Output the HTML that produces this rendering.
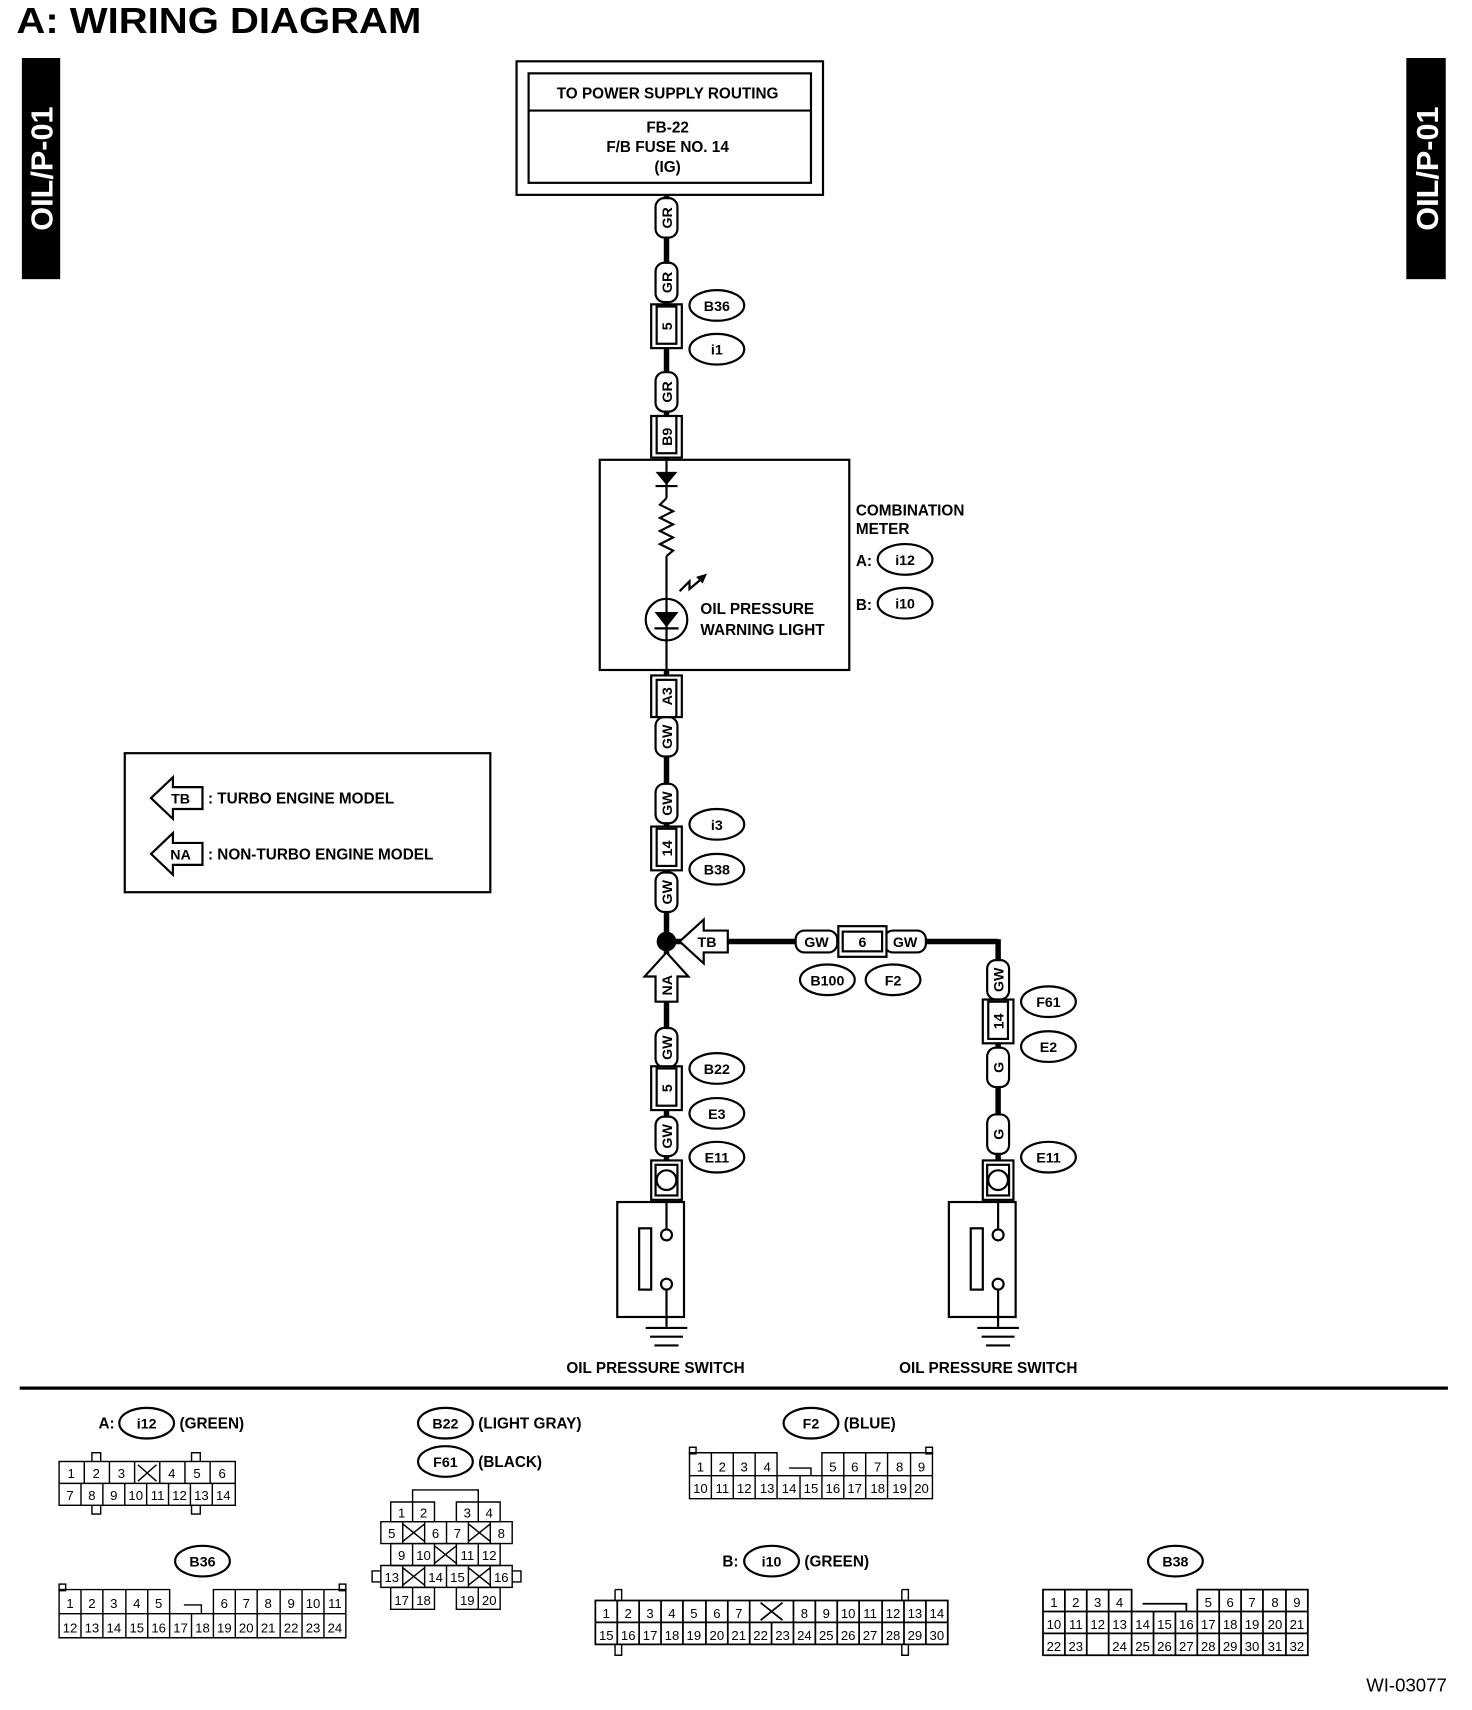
<!DOCTYPE html>
<html><head><meta charset="utf-8"><style>
html,body{margin:0;padding:0;background:#fff}
svg{display:block}
text{font-family:"Liberation Sans",sans-serif;font-weight:bold;fill:#000}
.c rect{fill:#fff;stroke:#000;stroke-width:2}
.c text{font-size:13px;text-anchor:middle}
.o ellipse{fill:#fff;stroke:#000;stroke-width:2}
.o text{font-size:13px;text-anchor:middle}
.g{fill:none;stroke:#000;stroke-width:1.3}
.g2{fill:#fff;stroke:#000;stroke-width:1.3}
.t text{font-size:12px;text-anchor:middle;font-weight:normal}
.w{stroke:#000;stroke-width:5;fill:none}
.l{stroke:#000;stroke-width:2;fill:none}
</style></head><body>
<svg width="1472" height="1710" viewBox="0 0 1345 1562" preserveAspectRatio="none" xmlns="http://www.w3.org/2000/svg">
<text x="15" y="30" font-size="33" textLength="370" lengthAdjust="spacingAndGlyphs">A:  WIRING DIAGRAM</text>
<rect x="20" y="53" width="35" height="202" fill="#000"/>
<text transform="translate(48,154) rotate(-90)" font-size="28" text-anchor="middle" style="fill:#fff">OIL/P-01</text>
<rect x="1285" y="53" width="36" height="202" fill="#000"/>
<text transform="translate(1314,154) rotate(-90)" font-size="28" text-anchor="middle" style="fill:#fff">OIL/P-01</text>

<rect x="472" y="56" width="280" height="122" class="l"/>
<rect x="483" y="67" width="258" height="100" class="l"/>
<line x1="483" y1="101" x2="741" y2="101" class="l"/>
<g font-size="14" text-anchor="middle"><text x="610" y="90">TO POWER SUPPLY ROUTING</text><text x="610" y="121">FB-22</text><text x="610" y="139">F/B FUSE NO. 14</text><text x="610" y="157">(IG)</text></g>

<line x1="609" y1="178" x2="609" y2="420" class="w"/>
<line x1="609" y1="612" x2="609" y2="1060" class="w"/>
<line x1="609" y1="860" x2="912" y2="860" class="w"/>
<line x1="912" y1="858" x2="912" y2="1060" class="w"/>

<g class="c">
<g transform="translate(609,199)"><rect x="-10" y="-18" width="20" height="36" rx="8"/><text transform="rotate(-90)" y="5">GR</text></g>
<g transform="translate(609,258)"><rect x="-10" y="-18" width="20" height="36" rx="8"/><text transform="rotate(-90)" y="5">GR</text></g>
<g transform="translate(609,358)"><rect x="-10" y="-18" width="20" height="36" rx="8"/><text transform="rotate(-90)" y="5">GR</text></g>
<g transform="translate(609,673)"><rect x="-10" y="-18" width="20" height="36" rx="8"/><text transform="rotate(-90)" y="5">GW</text></g>
<g transform="translate(609,734)"><rect x="-10" y="-18" width="20" height="36" rx="8"/><text transform="rotate(-90)" y="5">GW</text></g>
<g transform="translate(609,815)"><rect x="-10" y="-18" width="20" height="36" rx="8"/><text transform="rotate(-90)" y="5">GW</text></g>
<g transform="translate(609,957)"><rect x="-10" y="-18" width="20" height="36" rx="8"/><text transform="rotate(-90)" y="5">GW</text></g>
<g transform="translate(609,1038)"><rect x="-10" y="-18" width="20" height="36" rx="8"/><text transform="rotate(-90)" y="5">GW</text></g>
<g transform="translate(912,895)"><rect x="-10" y="-18" width="20" height="36" rx="8"/><text transform="rotate(-90)" y="5">GW</text></g>
<g transform="translate(912,975)"><rect x="-10" y="-18" width="20" height="36" rx="8"/><text transform="rotate(-90)" y="5">G</text></g>
<g transform="translate(912,1036)"><rect x="-10" y="-18" width="20" height="36" rx="8"/><text transform="rotate(-90)" y="5">G</text></g>
<g transform="translate(746,860)"><rect x="-19" y="-10" width="38" height="20" rx="8"/><text y="5">GW</text></g>
<g transform="translate(827,860)"><rect x="-19" y="-10" width="38" height="20" rx="8"/><text y="5">GW</text></g>
<g transform="translate(609,298)"><rect x="-14" y="-20" width="28" height="40"/><rect x="-9" y="-18" width="18" height="34"/><text transform="rotate(-90)" y="5">5</text></g>
<g transform="translate(609,399)"><rect x="-14" y="-19" width="28" height="38"/><rect x="-9" y="-19" width="18" height="34"/><text transform="rotate(-90)" y="5">B9</text></g>
<g transform="translate(609,636)"><rect x="-14" y="-19" width="28" height="38"/><rect x="-9" y="-15" width="18" height="34"/><text transform="rotate(-90)" y="5">A3</text></g>
<g transform="translate(609,775)"><rect x="-14" y="-20" width="28" height="40"/><rect x="-9" y="-18" width="18" height="34"/><text transform="rotate(-90)" y="5">14</text></g>
<g transform="translate(609,994)"><rect x="-14" y="-20" width="28" height="40"/><rect x="-9" y="-18" width="18" height="34"/><text transform="rotate(-90)" y="5">5</text></g>
<g transform="translate(912,933)"><rect x="-14" y="-20" width="28" height="40"/><rect x="-9" y="-18" width="18" height="34"/><text transform="rotate(-90)" y="5">14</text></g>
<g transform="translate(788,860)"><rect x="-22" y="-14" width="44" height="28"/><rect x="-18" y="-9" width="36" height="18"/><text y="5">6</text></g>
<g transform="translate(609,1078)"><rect x="-14" y="-18" width="28" height="36"/><rect x="-10" y="-14" width="20" height="28"/><circle r="9" fill="#fff" stroke="#000" stroke-width="2"/></g>
<g transform="translate(912,1078)"><rect x="-14" y="-18" width="28" height="36"/><rect x="-10" y="-14" width="20" height="28"/><circle r="9" fill="#fff" stroke="#000" stroke-width="2"/></g>
</g>

<g class="o">
<g transform="translate(655,279)"><ellipse rx="25" ry="14"/><text y="5">B36</text></g>
<g transform="translate(655,319)"><ellipse rx="25" ry="14"/><text y="5">i1</text></g>
<g transform="translate(827,511)"><ellipse rx="25" ry="14"/><text y="5">i12</text></g>
<g transform="translate(827,551)"><ellipse rx="25" ry="14"/><text y="5">i10</text></g>
<g transform="translate(655,753)"><ellipse rx="25" ry="14"/><text y="5">i3</text></g>
<g transform="translate(655,794)"><ellipse rx="25" ry="14"/><text y="5">B38</text></g>
<g transform="translate(756,895)"><ellipse rx="25" ry="14"/><text y="5">B100</text></g>
<g transform="translate(816,895)"><ellipse rx="25" ry="14"/><text y="5">F2</text></g>
<g transform="translate(958,915)"><ellipse rx="25" ry="14"/><text y="5">F61</text></g>
<g transform="translate(958,956)"><ellipse rx="25" ry="14"/><text y="5">E2</text></g>
<g transform="translate(958,1057)"><ellipse rx="25" ry="14"/><text y="5">E11</text></g>
<g transform="translate(655,976)"><ellipse rx="25" ry="14"/><text y="5">B22</text></g>
<g transform="translate(655,1017)"><ellipse rx="25" ry="14"/><text y="5">E3</text></g>
<g transform="translate(655,1057)"><ellipse rx="25" ry="14"/><text y="5">E11</text></g>
</g>

<rect x="548" y="420" width="228" height="192" class="l"/>
<line x1="609" y1="420" x2="609" y2="612" class="l"/>
<path d="M599,431 L619,431 L609,443 Z" fill="#000"/><line x1="599" y1="444" x2="619" y2="444" class="l"/>
<rect x="600" y="455" width="18" height="53" fill="#fff"/>
<path d="M609,455 L603,461 L615,467 L603,473 L615,479 L603,485 L615,491 L603,497 L615,503 L609,508" class="l"/>
<circle cx="609" cy="566" r="19" fill="#fff" stroke="#000" stroke-width="2"/>
<line x1="609" y1="547" x2="609" y2="585" class="l"/>
<path d="M598,559 L620,559 L609,573 Z" fill="#000"/><line x1="598" y1="574" x2="620" y2="574" class="l"/>
<path d="M621,540 L630,531 L630,538 L642,528" class="l"/><path d="M646,524 L636,527 L642,533 Z" fill="#000"/>
<g font-size="14"><text x="640" y="561">OIL PRESSURE</text><text x="640" y="580">WARNING LIGHT</text>
<text x="782" y="471">COMBINATION</text><text x="782" y="488">METER</text><text x="782" y="517">A:</text><text x="782" y="557">B:</text></g>

<circle cx="609" cy="860" r="9" fill="#000"/>
<path d="M621,860 L643,840 L643,850 L665,850 L665,870 L643,870 L643,880 Z" fill="#fff" stroke="#000" stroke-width="2"/>
<text x="646" y="865" font-size="13" text-anchor="middle">TB</text>
<path d="M609,870 L589,892 L599,892 L599,915 L619,915 L619,892 L629,892 Z" fill="#fff" stroke="#000" stroke-width="2"/>
<text transform="translate(614,900) rotate(-90)" font-size="13" text-anchor="middle">NA</text>

<g class="l">
<rect x="564" y="1098" width="61" height="105"/><rect x="584" y="1122" width="11" height="56"/>
<line x1="609" y1="1096" x2="609" y2="1122"/><circle cx="609" cy="1128" r="5"/><circle cx="609" cy="1173" r="5"/><line x1="609" y1="1178" x2="609" y2="1212"/>
<line x1="590" y1="1213" x2="628" y2="1213"/><line x1="594" y1="1221" x2="624" y2="1221"/><line x1="598" y1="1229" x2="620" y2="1229"/>
<rect x="867" y="1098" width="61" height="105"/><rect x="887" y="1122" width="11" height="56"/>
<line x1="912" y1="1096" x2="912" y2="1122"/><circle cx="912" cy="1128" r="5"/><circle cx="912" cy="1173" r="5"/><line x1="912" y1="1178" x2="912" y2="1212"/>
<line x1="893" y1="1213" x2="931" y2="1213"/><line x1="897" y1="1221" x2="927" y2="1221"/><line x1="901" y1="1229" x2="923" y2="1229"/>
</g>
<g font-size="14" text-anchor="middle"><text x="599" y="1254">OIL PRESSURE SWITCH</text><text x="903" y="1254">OIL PRESSURE SWITCH</text></g>

<rect x="114" y="688" width="334" height="127" class="l"/>
<path d="M138,729 L158,710 L158,719 L185,719 L185,739 L158,739 L158,748 Z" fill="#fff" stroke="#000" stroke-width="2"/>
<text x="165" y="734" font-size="13" text-anchor="middle">TB</text>
<path d="M138,780 L158,761 L158,770 L185,770 L185,790 L158,790 L158,799 Z" fill="#fff" stroke="#000" stroke-width="2"/>
<text x="165" y="785" font-size="13" text-anchor="middle">NA</text>
<g font-size="14"><text x="190" y="734">: TURBO ENGINE MODEL</text><text x="190" y="785">: NON-TURBO ENGINE MODEL</text></g>

<line x1="18" y1="1268" x2="1323" y2="1268" stroke="#000" stroke-width="3"/>

<g class="o">
<g transform="translate(134,1300)"><ellipse rx="25" ry="14"/><text y="5">i12</text></g>
<g transform="translate(407,1300)"><ellipse rx="25" ry="14"/><text y="5">B22</text></g>
<g transform="translate(407,1335)"><ellipse rx="25" ry="14"/><text y="5">F61</text></g>
<g transform="translate(741,1300)"><ellipse rx="25" ry="14"/><text y="5">F2</text></g>
<g transform="translate(185,1426)"><ellipse rx="25" ry="14"/><text y="5">B36</text></g>
<g transform="translate(705,1426)"><ellipse rx="25" ry="14"/><text y="5">i10</text></g>
<g transform="translate(1074,1426)"><ellipse rx="25" ry="14"/><text y="5">B38</text></g>
</g>
<g font-size="14"><text x="90" y="1305">A:</text><text x="164" y="1305">(GREEN)</text><text x="437" y="1305">(LIGHT GRAY)</text><text x="437" y="1340">(BLACK)</text><text x="771" y="1305">(BLUE)</text><text x="660" y="1431">B:</text><text x="735" y="1431">(GREEN)</text></g>
<text x="1322" y="1545" font-size="17" text-anchor="end" style="font-weight:normal">WI-03077</text>

<!-- i12 -->
<rect x="84" y="1327" width="8" height="10" class="g2"/><rect x="84" y="1373" width="8" height="10" class="g2"/>
<rect x="175" y="1327" width="8" height="10" class="g2"/><rect x="175" y="1373" width="8" height="10" class="g2"/>
<rect x="54" y="1335" width="161" height="40" class="g2"/>
<path class="g" d="M54,1355H215M77,1335V1355M100,1335V1355M123,1335V1355M146,1335V1355M169,1335V1355M192,1335V1355M74,1355V1375M94,1355V1375M114,1355V1375M134,1355V1375M154,1355V1375M174,1355V1375M194,1355V1375M126,1338L143,1353M143,1338L126,1353"/>
<g class="t"><text x="65" y="1350">1</text><text x="88" y="1350">2</text><text x="111" y="1350">3</text><text x="157" y="1350">4</text><text x="180" y="1350">5</text><text x="203" y="1350">6</text>
<text x="64" y="1370">7</text><text x="84" y="1370">8</text><text x="104" y="1370">9</text><text x="124" y="1370">10</text><text x="144" y="1370">11</text><text x="164" y="1370">12</text><text x="184" y="1370">13</text><text x="204" y="1370">14</text></g>

<!-- B36 -->
<rect x="54" y="1447" width="6" height="6" class="g2"/><rect x="310" y="1447" width="6" height="6" class="g2"/>
<path class="g" d="M54,1452H155V1474H195V1452H316V1496H54Z M54,1474H316 M168,1466H184V1474 M74,1452V1496M94,1452V1496M115,1452V1496M135,1452V1496M155,1474V1496M175,1474V1496M195,1474V1496M215,1452V1496M235,1452V1496M256,1452V1496M276,1452V1496M296,1452V1496"/>
<g class="t"><text x="64" y="1469">1</text><text x="84" y="1469">2</text><text x="104" y="1469">3</text><text x="125" y="1469">4</text><text x="145" y="1469">5</text><text x="205" y="1469">6</text><text x="225" y="1469">7</text><text x="245" y="1469">8</text><text x="266" y="1469">9</text><text x="286" y="1469">10</text><text x="306" y="1469">11</text>
<text x="64" y="1491">12</text><text x="84" y="1491">13</text><text x="104" y="1491">14</text><text x="125" y="1491">15</text><text x="145" y="1491">16</text><text x="165" y="1491">17</text><text x="185" y="1491">18</text><text x="205" y="1491">19</text><text x="225" y="1491">20</text><text x="245" y="1491">21</text><text x="266" y="1491">22</text><text x="286" y="1491">23</text><text x="306" y="1491">24</text></g>

<!-- F61 -->
<path class="g" d="M377,1372V1361H437V1372"/>
<path class="g" d="M357,1372H397V1390H357Z M417,1372H457V1390H417Z M377,1372V1390 M437,1372V1390"/>
<path class="g" d="M348,1390H468V1410H348Z M368,1390V1410M388,1390V1410M408,1390V1410M428,1390V1410M448,1390V1410 M368,1392L388,1408M388,1392L368,1408M428,1392L448,1408M448,1392L428,1408"/>
<path class="g" d="M357,1410H457V1430H357Z M377,1410V1430M397,1410V1430M417,1410V1430M437,1410V1430 M397,1412L417,1428M417,1412L397,1428"/>
<path class="g" d="M348,1430H468V1450H348Z M368,1430V1450M388,1430V1450M408,1430V1450M428,1430V1450M448,1430V1450 M368,1432L388,1448M388,1432L368,1448M428,1432L448,1448M448,1432L428,1448 M340,1435H348V1445H340Z M468,1435H476V1445H468Z"/>
<path class="g" d="M357,1450H397V1470H357Z M417,1450H457V1470H417Z M377,1450V1470 M437,1450V1470"/>
<g class="t"><text x="367" y="1386">1</text><text x="387" y="1386">2</text><text x="427" y="1386">3</text><text x="447" y="1386">4</text>
<text x="358" y="1405">5</text><text x="398" y="1405">6</text><text x="418" y="1405">7</text><text x="458" y="1405">8</text>
<text x="367" y="1425">9</text><text x="387" y="1425">10</text><text x="427" y="1425">11</text><text x="447" y="1425">12</text>
<text x="358" y="1445">13</text><text x="398" y="1445">14</text><text x="418" y="1445">15</text><text x="458" y="1445">16</text>
<text x="367" y="1466">17</text><text x="387" y="1466">18</text><text x="427" y="1466">19</text><text x="447" y="1466">20</text></g>

<!-- F2 -->
<rect x="630" y="1322" width="6" height="6" class="g2"/><rect x="846" y="1322" width="6" height="6" class="g2"/>
<path class="g" d="M630,1327H710V1348H751V1327H852V1369H630Z M630,1348H852 M721,1341H741V1348 M650,1327V1369M670,1327V1369M690,1327V1369M710,1348V1369M731,1348V1369M751,1348V1369M771,1327V1369M791,1327V1369M811,1327V1369M832,1327V1369"/>
<g class="t"><text x="640" y="1344">1</text><text x="660" y="1344">2</text><text x="680" y="1344">3</text><text x="701" y="1344">4</text><text x="761" y="1344">5</text><text x="781" y="1344">6</text><text x="802" y="1344">7</text><text x="822" y="1344">8</text><text x="842" y="1344">9</text>
<text x="640" y="1364">10</text><text x="660" y="1364">11</text><text x="680" y="1364">12</text><text x="701" y="1364">13</text><text x="721" y="1364">14</text><text x="741" y="1364">15</text><text x="761" y="1364">16</text><text x="781" y="1364">17</text><text x="802" y="1364">18</text><text x="822" y="1364">19</text><text x="842" y="1364">20</text></g>

<!-- i10 -->
<path class="g" d="M544,1462H866V1502H544Z M544,1482H866 M564,1462V1502M584,1462V1502M604,1462V1502M624,1462V1502M645,1462V1502M665,1462V1502M685,1462V1502M705,1482V1502M725,1462V1502M745,1462V1502M765,1462V1502M785,1462V1502M806,1462V1502M826,1462V1502M846,1462V1502 M695,1464L715,1480M715,1464L695,1480" style="stroke-width:1.6"/>
<path class="g" d="M562,1452H568V1462M562,1452V1462 M562,1502V1512H568V1502 M824,1452H830V1462M824,1452V1462 M824,1502V1512H830V1502"/>
<g class="t"><text x="554" y="1478">1</text><text x="574" y="1478">2</text><text x="594" y="1478">3</text><text x="614" y="1478">4</text><text x="634" y="1478">5</text><text x="655" y="1478">6</text><text x="675" y="1478">7</text><text x="735" y="1478">8</text><text x="755" y="1478">9</text><text x="775" y="1478">10</text><text x="795" y="1478">11</text><text x="816" y="1478">12</text><text x="836" y="1478">13</text><text x="856" y="1478">14</text>
<text x="554" y="1498">15</text><text x="574" y="1498">16</text><text x="594" y="1498">17</text><text x="614" y="1498">18</text><text x="634" y="1498">19</text><text x="655" y="1498">20</text><text x="675" y="1498">21</text><text x="695" y="1498">22</text><text x="715" y="1498">23</text><text x="735" y="1498">24</text><text x="755" y="1498">25</text><text x="775" y="1498">26</text><text x="795" y="1498">27</text><text x="816" y="1498">28</text><text x="836" y="1498">29</text><text x="856" y="1498">30</text></g>

<!-- B38 -->
<path class="g" d="M953,1452H1034V1472H1094V1452H1195V1512H953Z M953,1472H1195M953,1492H1195 M1044,1465H1084V1472 M973,1452V1512M993,1452V1512M1013,1452V1472M1013,1472V1492M1034,1472V1512M1054,1472V1512M1074,1472V1512M1094,1452V1512M1114,1452V1512M1134,1452V1512M1154,1452V1512M1175,1452V1512 M1013,1492V1512" style="stroke-width:1.6"/>
<g class="t"><text x="963" y="1468">1</text><text x="983" y="1468">2</text><text x="1003" y="1468">3</text><text x="1023" y="1468">4</text><text x="1104" y="1468">5</text><text x="1124" y="1468">6</text><text x="1144" y="1468">7</text><text x="1165" y="1468">8</text><text x="1185" y="1468">9</text>
<text x="963" y="1488">10</text><text x="983" y="1488">11</text><text x="1003" y="1488">12</text><text x="1023" y="1488">13</text><text x="1044" y="1488">14</text><text x="1064" y="1488">15</text><text x="1084" y="1488">16</text><text x="1104" y="1488">17</text><text x="1124" y="1488">18</text><text x="1144" y="1488">19</text><text x="1165" y="1488">20</text><text x="1185" y="1488">21</text>
<text x="963" y="1508">22</text><text x="983" y="1508">23</text><text x="1023" y="1508">24</text><text x="1044" y="1508">25</text><text x="1064" y="1508">26</text><text x="1084" y="1508">27</text><text x="1104" y="1508">28</text><text x="1124" y="1508">29</text><text x="1144" y="1508">30</text><text x="1165" y="1508">31</text><text x="1185" y="1508">32</text></g>
</svg>
</body></html>
